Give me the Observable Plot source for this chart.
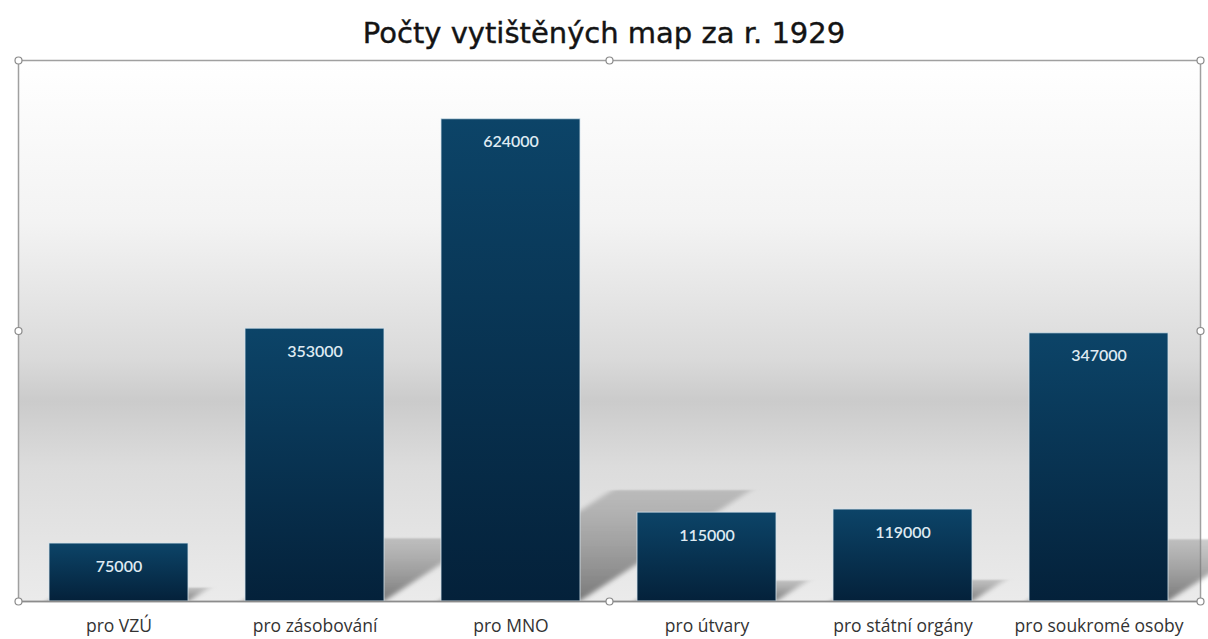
<!DOCTYPE html>
<html>
<head>
<meta charset="utf-8">
<script src="https://cdn.jsdelivr.net/npm/d3@7"></script>
<script src="https://cdn.jsdelivr.net/npm/@observablehq/plot@0.6"></script>
<style>
  html, body { margin: 0; padding: 0; background: #ffffff; }
  #title { height: 46px; padding-top: 0; box-sizing: border-box; text-align: center; font-family: "DejaVu Sans", sans-serif; font-size: 29px; color: #141414; line-height: 66px; white-space: nowrap; -webkit-text-stroke: 0.4px #141414; }
  #chart svg { display: block; }
</style>
</head>
<body>
<div id="title">Počty vytištěných map za r. 1929</div>
<div id="chart"></div>
<script>
const categories = ["pro VZÚ", "pro zásobování", "pro MNO", "pro útvary", "pro státní orgány", "pro soukromé osoby"];
const values = [75000, 353000, 624000, 115000, 119000, 347000];
const data = categories.map((c, i) => ({category: c, value: values[i]}));

const anchors = ["top-left", "top", "top-right", "left", "right", "bottom-left", "bottom", "bottom-right"];

const chart = Plot.plot({
  width: 1208,
  height: 593,
  marginTop: 14,
  marginBottom: 38,
  marginLeft: 18,
  marginRight: 8,
  style: {background: "transparent", fontFamily: "'Open Sans', sans-serif", fontSize: "17.5px", color: "#333"},
  x: {domain: categories, paddingInner: 0.29, paddingOuter: 0.15, label: null, tickSize: 0, tickPadding: 18},
  y: {domain: [0, 700000], axis: null},
  marks: [
    Plot.frame({fill: "url(#bgGrad)", stroke: "#a0a0a0", strokeWidth: 1.5}),
    Plot.barY(data, {x: "category", y: "value", fill: "url(#shGrad)", fillOpacity: 0.8, className: "bar-shadow"}),
    Plot.barY(data, {x: "category", y: "value", fill: "url(#barGrad)", stroke: "#d4e3ec", strokeOpacity: 0.8, strokeWidth: 1}),
    Plot.text(data, {x: "category", y: "value", text: d => String(d.value), dy: 23, fill: "#dfeaf2", fontSize: 16, fontWeight: 600, fontFamily: "Lato, sans-serif"}),
    Plot.ruleY([0], {stroke: "#8c8c8c", strokeWidth: 1.5}),
    ...anchors.map(a => Plot.dot([0], {frameAnchor: a, r: 3.5, fill: "#ffffff", stroke: "#8a8a8a", strokeWidth: 1.2}))
  ]
});

const svg = d3.select(chart);
const defs = svg.insert("defs", ":first-child");
const bg = defs.append("linearGradient").attr("id", "bgGrad").attr("x1", 0).attr("y1", 0).attr("x2", 0).attr("y2", 1);
[["0%", "#ffffff"], ["30%", "#f3f3f3"], ["55%", "#dadada"], ["63%", "#cbcbcb"], ["75%", "#dcdcdc"], ["100%", "#ebebeb"]]
  .forEach(([o, c]) => bg.append("stop").attr("offset", o).attr("stop-color", c));
const bar = defs.append("linearGradient").attr("id", "barGrad").attr("x1", 0).attr("y1", 0).attr("x2", 0).attr("y2", 1);
[["0%", "#0c4468"], ["100%", "#04213a"]]
  .forEach(([o, c]) => bar.append("stop").attr("offset", o).attr("stop-color", c));
const sh = defs.append("linearGradient").attr("id", "shGrad").attr("x1", 0).attr("y1", 0).attr("x2", 0).attr("y2", 1);
[["0%", "#8e8e8e", 0.55], ["100%", "#5e5e5e", 1]]
  .forEach(([o, c, op]) => sh.append("stop").attr("offset", o).attr("stop-color", c).attr("stop-opacity", op));
const blur = defs.append("filter").attr("id", "shBlur").attr("x", "-30%").attr("y", "-30%").attr("width", "160%").attr("height", "160%");
blur.append("feGaussianBlur").attr("stdDeviation", 4);

svg.selectAll(".bar-shadow rect")
  .attr("filter", "url(#shBlur)")
  .style("transform-box", "fill-box")
  .style("transform-origin", "50% 100%")
  .style("transform", "skewX(-57deg) scaleY(0.23)");

document.getElementById("chart").appendChild(chart);
</script>
</body>
</html>
